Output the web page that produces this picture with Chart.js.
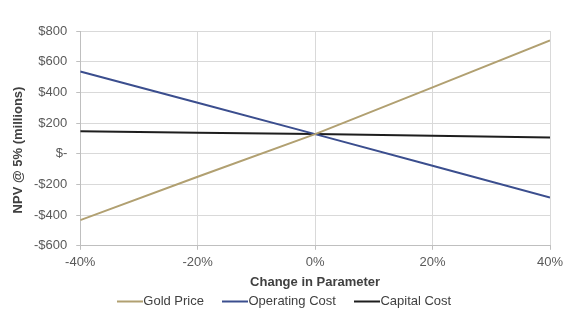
<!DOCTYPE html>
<html>
<head>
<meta charset="utf-8">
<script src="https://cdn.jsdelivr.net/npm/chart.js@4.4.0/dist/chart.umd.min.js"></script>
<style>
html,body{margin:0;padding:0;background:#fff}
#wrap{width:570px;height:322px;position:relative}
</style>
</head>
<body>
<div id="wrap"><canvas id="npvChart"></canvas></div>
<script>
// sensitivity steps (% change) and NPV @ 5% in $ millions
const changes = [-40, -20, 0, 20, 40];
const goldPrice = [-433, -150, 128, 433, 738];
const operatingCost = [536, 332, 128, -78, -285];
const capitalCost = [146, 137, 128, 117, 106];
const seriesNames = ['Gold Price', 'Operating Cost', 'Capital Cost'];
const seriesColors = ['#b1a071', '#3b4e8e', '#1e1e1e'];
const yTitle = 'NPV @ 5% (millions)';

const pts = vals => vals.map((v, i) => ({x: changes[i], y: v}));
const FAMILY = '"Liberation Sans", Arial, sans-serif';
const tickFont = {family: FAMILY, size: 13};
const titleFont = {family: FAMILY, size: 13, weight: 'bold'};

function money(v){
 if(v === 0) return '$-';
 return (v < 0 ? '-$' : '$') + Math.abs(v);
}

// legend swatch: a plain line so it runs right up to the label text
function swatch(color){
 const c = document.createElement('canvas');
 c.width = 26; c.height = 4;
 const g = c.getContext('2d');
 g.fillStyle = color;
 g.fillRect(0, 1, 26, 2);
 return c;
}

// y title sits a little below the plot's middle, so it is drawn by hand
const sideTitle = {
 id: 'sideTitle',
 afterDraw(chart){
  const ctx = chart.ctx;
  ctx.save();
  ctx.translate(18, 150);
  ctx.rotate(-Math.PI / 2);
  ctx.font = 'bold 13px ' + FAMILY;
  ctx.fillStyle = '#404040';
  ctx.textAlign = 'center';
  ctx.textBaseline = 'middle';
  ctx.fillText(yTitle, 0, 0);
  ctx.restore();
 }
};

new Chart(document.getElementById('npvChart'), {
 type: 'line',
 data: {
  datasets: [goldPrice, operatingCost, capitalCost].map((d, i) => ({
   label: seriesNames[i],
   data: pts(d),
   borderColor: seriesColors[i],
   backgroundColor: seriesColors[i],
   borderWidth: 2,
   pointRadius: 0,
   pointStyle: swatch(seriesColors[i]),
   tension: 0
  }))
 },
 options: {
  responsive: true,
  maintainAspectRatio: false,
  animation: false,
  layout: {padding: {top: 31, right: 20, left: 25, bottom: 4}},
  plugins: {
   tooltip: {enabled: false},
   legend: {
    position: 'bottom',
    labels: {
     usePointStyle: true,
     boxWidth: 13,
     boxHeight: 8,
     pointStyleWidth: 13,
     padding: 25,
     color: '#404040',
     font: {family: FAMILY, size: 13}
    }
   }
  },
  scales: {
   x: {
    type: 'linear',
    min: -40, max: 40,
    ticks: {stepSize: 20, color: '#595959', font: tickFont, padding: 5, callback: v => v + '%'},
    grid: {color: '#d9d9d9', tickColor: '#bfbfbf', tickLength: 4},
    border: {color: '#bfbfbf'},
    // title pulled down into the legend band
    title: {display: true, text: 'Change in Parameter', color: '#404040',
     font: titleFont, padding: {top: -1, bottom: -20}}
   },
   y: {
    min: -600, max: 800,
    ticks: {stepSize: 200, color: '#595959', font: tickFont, padding: 9, callback: v => money(v)},
    grid: {color: '#d9d9d9', tickColor: '#bfbfbf', tickLength: 4},
    border: {color: '#bfbfbf'}
   }
  }
 },
 plugins: [sideTitle]
});
</script>
</body>
</html>
